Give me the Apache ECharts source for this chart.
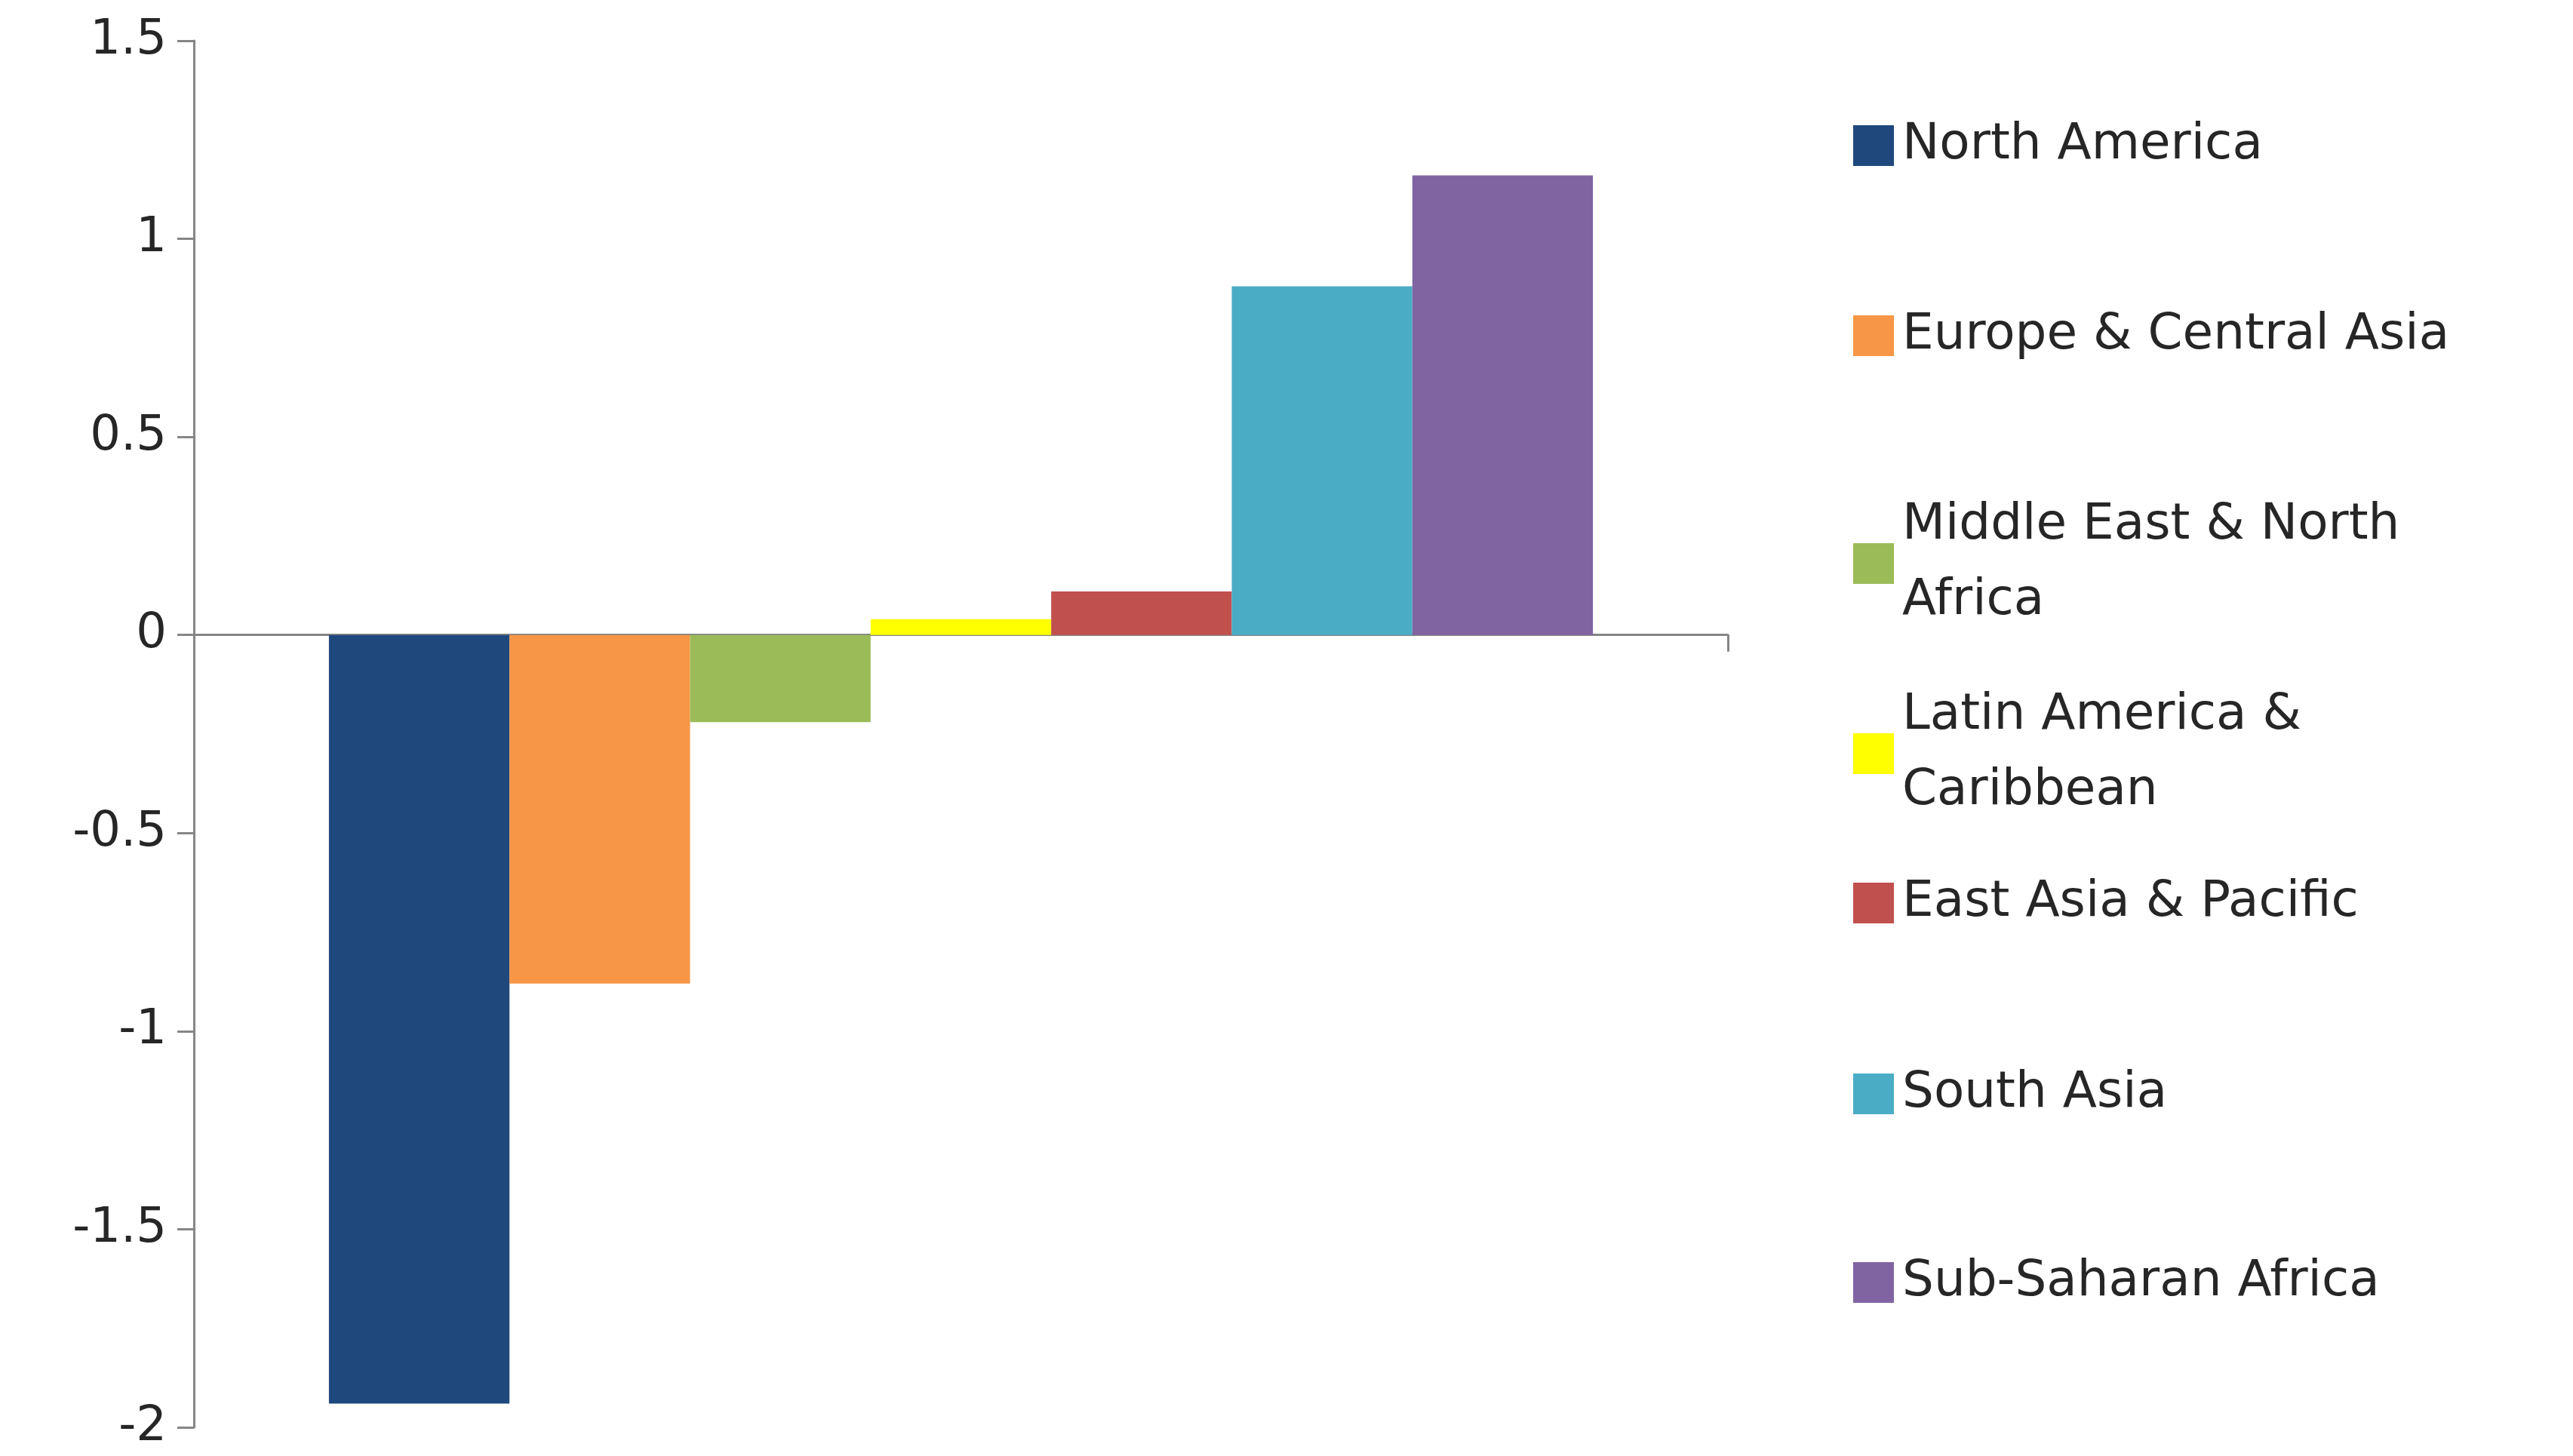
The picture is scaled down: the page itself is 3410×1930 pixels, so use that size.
<!DOCTYPE html>
<html>
<head>
<meta charset="utf-8">
<script src="https://cdn.jsdelivr.net/npm/echarts@6/dist/echarts.min.js"></script>
<style>html,body{margin:0;padding:0;background:#fff}#chart{width:3410px;height:1930px}</style>
</head>
<body>
<div id="chart"></div>
<script>
var regions = ['North America', 'Europe & Central Asia', 'Middle East & North Africa', 'Latin America & Caribbean', 'East Asia & Pacific', 'South Asia', 'Sub-Saharan Africa'];
var legendLabels = ['North America', 'Europe & Central Asia', 'Middle East & North\nAfrica', 'Latin America &\nCaribbean', 'East Asia & Pacific', 'South Asia', 'Sub-Saharan Africa'];
var values = [-1.94, -0.88, -0.22, 0.04, 0.11, 0.88, 1.16];
var colors = ['#1F497D', '#F79646', '#9BBB59', '#FFFF00', '#C0504D', '#4BACC6', '#8064A2'];
var legendTops = [138, 390, 642, 894, 1142, 1395, 1645];

var chart = echarts.init(document.getElementById('chart'));
var series = [];
var legends = [];
for (var i = 0; i < regions.length; i++) {
    series.push({
        name: regions[i],
        type: 'bar',
        data: [values[i]],
        barGap: '0%',
        barCategoryGap: '17.6%',
        itemStyle: {color: colors[i]}
    });
    legends.push({
        data: [regions[i]],
        left: 2451,
        top: legendTops[i],
        itemWidth: 54,
        itemHeight: 54,
        icon: 'rect',
        itemGap: 0,
        formatter: (function (label) { return function () { return label; }; })(legendLabels[i]),
        textStyle: {fontFamily: 'DejaVu Sans', fontSize: 66, color: '#262626', lineHeight: 100, padding: [0, 0, 0, 6]}
    });
}

chart.setOption({
    animation: false,
    legend: legends,
    grid: {left: 257, top: 54, width: 2033, height: 1838},
    xAxis: {
        type: 'category',
        data: [''],
        axisLine: {onZero: true, lineStyle: {color: '#868686', width: 3}},
        axisTick: {show: true, length: 22, lineStyle: {color: '#868686', width: 3}},
        axisLabel: {show: false}
    },
    yAxis: {
        type: 'value',
        min: -2,
        max: 1.5,
        interval: 0.5,
        splitLine: {show: false},
        axisLine: {show: true, lineStyle: {color: '#868686', width: 3}},
        axisTick: {show: true, length: 22, lineStyle: {color: '#868686', width: 3}},
        axisLabel: {fontFamily: 'DejaVu Sans', fontSize: 64, color: '#262626', margin: 36}
    },
    series: series
});
</script>
</body>
</html>
